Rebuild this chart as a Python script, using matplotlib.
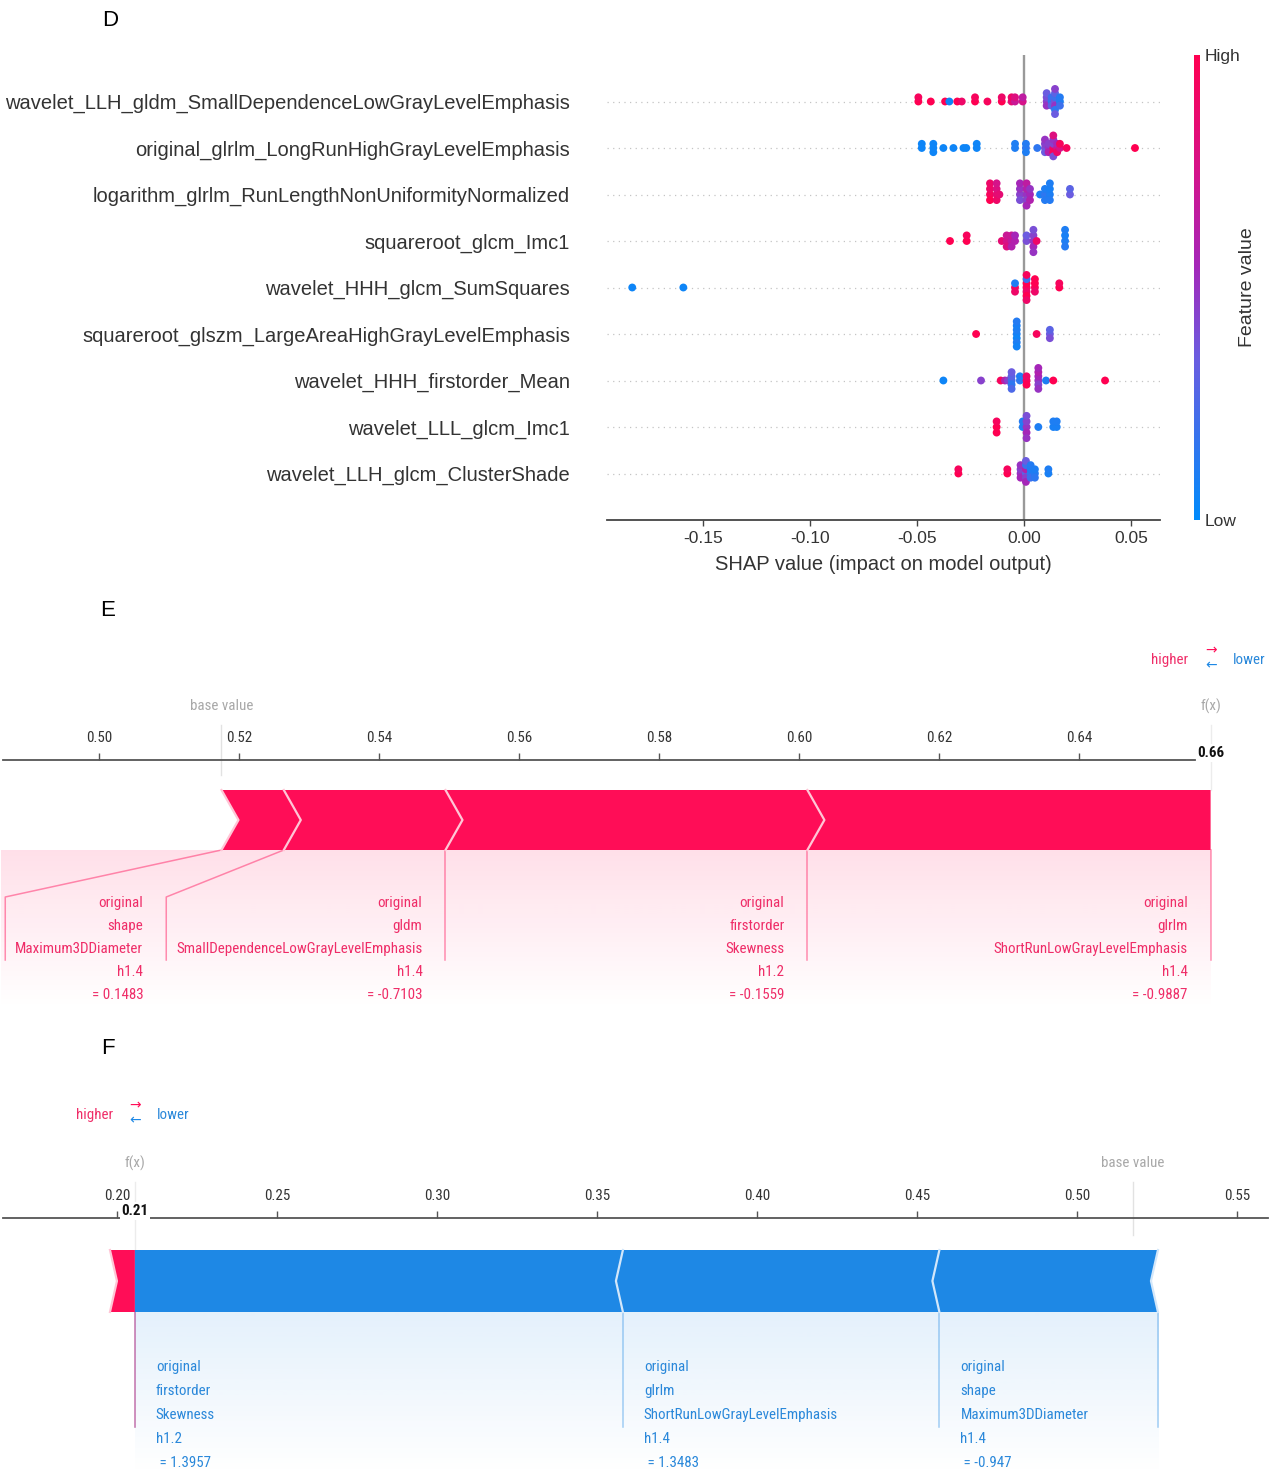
import numpy as np
import matplotlib
matplotlib.use("Agg")
import matplotlib.pyplot as plt
from matplotlib import font_manager as fm
from matplotlib.colors import LinearSegmentedColormap, Normalize, to_rgb
from matplotlib.cm import ScalarMappable
from matplotlib.patches import Polygon
from matplotlib.transforms import offset_copy

W, H, DPI = 1281, 1475, 100

# ---------------- Panel D data (SHAP summary / beeswarm) ----------------
feature_names = [
    "wavelet_LLH_gldm_SmallDependenceLowGrayLevelEmphasis",
    "original_glrlm_LongRunHighGrayLevelEmphasis",
    "logarithm_glrlm_RunLengthNonUniformityNormalized",
    "squareroot_glcm_Imc1",
    "wavelet_HHH_glcm_SumSquares",
    "squareroot_glszm_LargeAreaHighGrayLevelEmphasis",
    "wavelet_HHH_firstorder_Mean",
    "wavelet_LLL_glcm_Imc1",
    "wavelet_LLH_glcm_ClusterShade",
]

shap_sdlgle = [-0.0494, -0.0494, -0.0436, -0.0369, -0.0349, -0.0312, -0.0291, -0.0229, -0.0229, -0.0171,
               -0.0104, -0.0104, -0.0058, -0.0058, -0.0042, -0.0042, -0.0006, -0.0006,
               0.0106, 0.0106, 0.0106, 0.0106, 0.0129, 0.0129, 0.0129,
               0.0145, 0.0145, 0.0145, 0.0145, 0.0145, 0.0145, 0.0145, 0.0168, 0.0168, 0.0168]
val_sdlgle = [1.0, 0.95, 1.0, 1.0, 0.05, 1.0, 0.9, 1.0, 0.95, 0.95,
              1.0, 0.9, 0.85, 0.9, 0.7, 0.8, 0.75, 0.65,
              0.45, 0.4, 0.5, 0.35, 0.15, 0.2, 0.3,
              0.4, 0.2, 0.5, 0.3, 0.15, 0.45, 0.35, 0.1, 0.12, 0.2]

shap_lrhgle = [-0.0478, -0.0478, -0.0424, -0.0424, -0.0424, -0.0377, -0.0330, -0.0283, -0.0270, -0.0221, -0.0221,
               -0.0042, -0.0042, 0.0009, 0.0009, 0.0009, 0.0062,
               0.0098, 0.0098, 0.0098, 0.0098, 0.0115, 0.0115, 0.0115,
               0.0137, 0.0137, 0.0137, 0.0137, 0.0137, 0.0137, 0.0155, 0.0155, 0.0155,
               0.0168, 0.0168, 0.0199, 0.0519]
val_lrhgle = [0.05, 0.05, 0.05, 0.05, 0.05, 0.05, 0.05, 0.05, 0.05, 0.05, 0.05,
              0.1, 0.1, 0.15, 0.12, 0.1, 0.15,
              0.4, 0.45, 0.35, 0.5, 0.5, 0.45, 0.6,
              0.9, 0.45, 0.95, 0.5, 0.4, 0.8, 0.7, 0.55, 0.9,
              0.75, 0.95, 0.95, 1.0]

shap_rlnun = [-0.0159, -0.0159, -0.0159, -0.0159, -0.0128, -0.0128, -0.0128, -0.0128, -0.0115,
              -0.0019, -0.0019, -0.0019, -0.0019, 0.0012, 0.0012, 0.0012, 0.0012, 0.0012,
              0.0028, 0.0028, 0.0028, 0.0075, 0.0098, 0.0098, 0.0098,
              0.0121, 0.0121, 0.0121, 0.0121, 0.0215, 0.0215]
val_rlnun = [0.95, 0.9, 1.0, 0.9, 0.85, 0.8, 0.9, 0.75, 0.85,
             0.45, 0.5, 0.4, 0.55, 0.5, 0.6, 0.45, 0.65, 0.55,
             0.55, 0.5, 0.6, 0.1, 0.15, 0.1, 0.12,
             0.1, 0.08, 0.12, 0.1, 0.35, 0.3]

shap_sqimc1 = [-0.0346, -0.0268, -0.0268, -0.0104, -0.0081, -0.0081, -0.0081, -0.0058, -0.0058, -0.0058,
               -0.0042, -0.0042, 0.0012, 0.0012, 0.0044, 0.0044, 0.0044, 0.0044, 0.0044, 0.0059,
               0.0192, 0.0192, 0.0192, 0.0192]
val_sqimc1 = [1.0, 1.0, 0.95, 0.85, 0.75, 0.7, 0.8, 0.65, 0.7, 0.6,
              0.6, 0.55, 0.4, 0.35, 0.5, 0.45, 0.55, 0.4, 0.5, 0.9,
              0.1, 0.08, 0.12, 0.1]

shap_sumsq = [-0.1832, -0.1593, -0.0042, -0.0042, -0.0042,
              0.0012, 0.0012, 0.0012, 0.0012, 0.0012, 0.0012, 0.0012,
              0.0051, 0.0051, 0.0051, 0.0051, 0.0165, 0.0165]
val_sumsq = [0.05, 0.05, 0.95, 0.1, 0.9,
             0.95, 1.0, 0.9, 0.2, 1.0, 0.95, 0.9,
             0.95, 1.0, 0.9, 1.0, 1.0, 0.95]

shap_lahgle = [-0.0224, -0.0034, -0.0034, -0.0034, -0.0034, -0.0034, -0.0034, -0.0034,
               0.0059, 0.0121, 0.0121, 0.0121]
val_lahgle = [1.0, 0.08, 0.1, 0.05, 0.08, 0.1, 0.12, 0.06,
              0.95, 0.35, 0.3, 0.4]

shap_hmean = [-0.0377, -0.0201, -0.0109, -0.0089, -0.0075,
              -0.0058, -0.0058, -0.0058, -0.0058, -0.0058, -0.0019, -0.0019,
              0.0012, 0.0012, 0.0012, 0.0067, 0.0067, 0.0067, 0.0067, 0.0067, 0.0067,
              0.0103, 0.0137, 0.0379]
val_hmean = [0.05, 0.45, 0.95, 0.6, 0.45,
             0.2, 0.3, 0.15, 0.35, 0.25, 0.15, 0.1,
             0.95, 0.9, 1.0, 0.5, 0.55, 0.45, 0.6, 0.5, 0.55,
             0.1, 1.0, 1.0]

shap_lllimc1 = [-0.0128, -0.0128, -0.0128, -0.0006, -0.0006,
                0.0012, 0.0012, 0.0012, 0.0012, 0.0012, 0.0067, 0.0137, 0.0137, 0.0153, 0.0153]
val_lllimc1 = [1.0, 0.95, 1.0, 0.1, 0.12,
               0.5, 0.45, 0.55, 0.4, 0.5, 0.1, 0.08, 0.1, 0.08, 0.1]

shap_cshade = [-0.0307, -0.0307, -0.0078, -0.0078, -0.0016, -0.0016, -0.0016, -0.0016,
               0.0009, 0.0009, 0.0009, 0.0009, 0.0009, 0.0009, 0.0031, 0.0031, 0.0031, 0.0031,
               0.0051, 0.0051, 0.0051, 0.0114, 0.0114]
val_cshade = [1.0, 0.95, 1.0, 0.95, 0.5, 0.45, 0.55, 0.5,
              0.3, 0.6, 0.45, 0.2, 0.55, 0.35, 0.15, 0.1, 0.2, 0.12,
              0.12, 0.1, 0.15, 0.08, 0.1]

d_xticks = [-0.15, -0.10, -0.05, 0.00, 0.05]

# ---------------- Panel E data (force plot) ----------------
e_base_value = 0.5175
e_pos_effects = [0.0576, 0.0517, 0.0231, 0.0089]          # ordered outward from f(x)
e_pos_labels = [
    ["original", "glrlm", "ShortRunLowGrayLevelEmphasis", "h1.4", "= -0.9887"],
    ["original", "firstorder", "Skewness", "h1.2", "= -0.1559"],
    ["original", "gldm", "SmallDependenceLowGrayLevelEmphasis", "h1.4", "= -0.7103"],
    ["original", "shape", "Maximum3DDiameter", "h1.4", "= 0.1483"],
]
e_neg_effects = []
e_neg_labels = []
e_ticks = [0.50, 0.52, 0.54, 0.56, 0.58, 0.60, 0.62, 0.64]

# ---------------- Panel F data (force plot) ----------------
f_base_value = 0.5175
f_pos_effects = [0.0078]
f_pos_labels = [None]
f_neg_effects = [-0.1525, -0.0989, -0.0683]
f_neg_labels = [
    ["original", "firstorder", "Skewness", "h1.2", " = 1.3957"],
    ["original", "glrlm", "ShortRunLowGrayLevelEmphasis", "h1.4", " = 1.3483"],
    ["original", "shape", "Maximum3DDiameter", "h1.4", " = -0.947"],
]
f_ticks = [0.20, 0.25, 0.30, 0.35, 0.40, 0.45, 0.50, 0.55]

# ---------------- fonts ----------------
names = {f.name for f in fm.fontManager.ttflist}
SANS = "Liberation Sans" if "Liberation Sans" in names else "DejaVu Sans"
if "Liberation Sans Narrow" in names:
    NARROW = dict(family="Liberation Sans Narrow")
elif "Roboto Condensed" in names:
    NARROW = dict(family="Roboto Condensed")
elif any(f.name == "DejaVu Sans" and "ondensed" in f.fname for f in fm.fontManager.ttflist):
    NARROW = dict(family="DejaVu Sans", stretch="condensed")
else:
    NARROW = dict(family=SANS)
plt.rcParams["font.family"] = [SANS, "DejaVu Sans"]

RED = "#ff0d57"
BLUE = "#1e88e5"
RED_TXT = "#ef2d68"
BLUE_TXT = "#2a88da"

fig = plt.figure(figsize=(W / DPI, H / DPI), dpi=DPI)
renderer = fig.canvas.get_renderer()


def rect(l, t, r, b):
    return [l / W, 1 - b / H, (r - l) / W, (b - t) / H]


def text_w(s, **kw):
    t = fig.text(0, 0, s, **kw)
    w = t.get_window_extent(renderer=renderer).width
    t.remove()
    return w


FS_N = 10 * 246.0 / text_w("SmallDependenceLowGrayLevelEmphasis", fontsize=10, **NARROW)

# ---------------- Panel D ----------------
cmap = LinearSegmentedColormap.from_list(
    "shap_red_blue",
    [(0.0, "#008bfb"), (0.35, "#6b5ce0"), (0.55, "#a526b8"), (0.75, "#d4138a"), (1.0, "#ff0051")])


def swarm_offsets(vals, nbins=100, row_height=0.4):
    vals = np.asarray(vals, float)
    quant = np.round(nbins * (vals - vals.min()) / (vals.max() - vals.min() + 1e-8))
    inds = np.argsort(quant, kind="stable")
    ys = np.zeros(len(vals))
    layer, last = 0, -1
    for ind in inds:
        if quant[ind] != last:
            layer = 0
        ys[ind] = np.ceil(layer / 2) * ((layer % 2) * 2 - 1)
        layer += 1
        last = quant[ind]
    ys *= 0.9 * (row_height / np.max(ys + 1))
    return ys


d_shap = [shap_sdlgle, shap_lrhgle, shap_rlnun, shap_sqimc1, shap_sumsq,
          shap_lahgle, shap_hmean, shap_lllimc1, shap_cshade]
d_vals = [val_sdlgle, val_lrhgle, val_rlnun, val_sqimc1, val_sumsq,
          val_lahgle, val_hmean, val_lllimc1, val_cshade]

axd = fig.add_axes(rect(607, 55, 1160, 520))
n = len(feature_names)
for i, (sv, fv) in enumerate(zip(d_shap, d_vals)):
    pos = n - 1 - i
    axd.axhline(pos, color="#c4c4c4", lw=0.9, dashes=(1, 3.5), zorder=-1)
    ys = swarm_offsets(sv)
    axd.scatter(sv, pos + ys, c=fv, cmap=cmap, vmin=0, vmax=1, s=32, linewidths=0, zorder=2)
axd.axvline(0, color="#999999", lw=1.7, zorder=1)
axd.set_xlim(-0.195, 0.0636)
axd.set_ylim(-1, n)
axd.set_yticks(range(n))
axd.set_yticklabels(feature_names[::-1])
axd.set_xticks(d_xticks)
axd.set_xticklabels(["%.2f" % t for t in d_xticks])
for s in ["top", "right", "left"]:
    axd.spines[s].set_visible(False)
axd.spines["bottom"].set_color("#444444")
axd.spines["bottom"].set_linewidth(1.3)
axd.tick_params(axis="y", length=0, pad=26.6, labelsize=14.5, labelcolor="#333333")
axd.tick_params(axis="x", length=4, width=1, color="#444444", pad=4, labelsize=12.5, labelcolor="#333333")
axd.set_xlabel("SHAP value (impact on model output)", fontsize=14.5, color="#333333", labelpad=6.5)
axd.patch.set_visible(False)

cax = fig.add_axes(rect(1194, 55, 1200, 520))
cb = fig.colorbar(ScalarMappable(norm=Normalize(0, 1), cmap=cmap), cax=cax, ticks=[0, 1])
cb.set_ticklabels(["Low", "High"])
cb.outline.set_visible(False)
cax.tick_params(length=0, pad=3.5, labelsize=12.5, labelcolor="#333333")
cb.set_label("Feature value", size=14, labelpad=-1, color="#333333")


# ---------------- force plots ----------------
def draw_force(ax, xlim, base, pos_eff, pos_lab, neg_eff, neg_lab, ticks, cfg):
    x0, x1 = xlim
    bb = ax.get_position()
    ppu = bb.width * W / (x1 - x0)

    def px(v):
        return v / ppu

    top, bot = cfg["bar_top"], cfg["bar_bot"]
    mid = 0.5 * (top + bot)
    d = px(cfg["chev"])
    fx = base + sum(pos_eff) + sum(neg_eff)
    ax.set_autoscale_on(False)
    ax.set_xlim(x0, x1)
    ax.set_ylim(cfg["ax_bot"], cfg["axis_y"])

    pos_b = [fx]
    for e in pos_eff:
        pos_b.append(pos_b[-1] - e)
    neg_b = [fx]
    for e in neg_eff:
        neg_b.append(neg_b[-1] - e)

    txtkw = dict(fontsize=FS_N, **NARROW)
    # positive labels: right-aligned, left of their line
    Lp = [fx]
    for k, lab in enumerate(pos_lab):
        bn = pos_b[k + 1]
        if lab is None:
            Lp.append(bn)
            continue
        w = max(text_w(s, **txtkw) for s in lab)
        tr = Lp[k] - px(23)
        for j, s in enumerate(lab):
            ax.text(tr, cfg["lab_y0"] + j * cfg["lab_dy"], s, ha="right", va="center",
                    color=RED_TXT, clip_on=False, zorder=5, **txtkw)
        Lp.append(max(min(bn, tr - px(w) - px(10)), x0))
    # negative labels: left-aligned, right of their line
    Ln = [fx]
    for k, lab in enumerate(neg_lab):
        bn = neg_b[k + 1]
        if lab is None:
            Ln.append(bn)
            continue
        w = max(text_w(s, **txtkw) for s in lab)
        tl = Ln[k] + px(21)
        for j, s in enumerate(lab):
            ax.text(tl, cfg["lab_y0"] + j * cfg["lab_dy"], s, ha="left", va="center",
                    color=BLUE_TXT, clip_on=False, zorder=5, **txtkw)
        Ln.append(max(bn, tl + px(w) + px(10)))

    def gradient(xa, xb, color, a0):
        rgba = np.zeros((80, 1, 4))
        rgba[..., :3] = to_rgb(color)
        rgba[:, 0, 3] = np.linspace(a0, 0.0, 80)
        im = ax.imshow(rgba, extent=(xa, xb, cfg["grad_end"], bot), origin="upper",
                       aspect="auto", interpolation="bilinear", zorder=0)
        im.set_clip_on(False)

    if any(l is not None for l in pos_lab):
        gradient(min(Lp) - px(4), fx, RED, 0.13)
    if any(l is not None for l in neg_lab):
        gradient(fx, max(Ln), BLUE, 0.12)

    # connector lines
    for j in range(len(Ln)):
        adj = (j < len(neg_lab) and neg_lab[j] is not None) or (j > 0 and neg_lab[j - 1] is not None)
        if adj:
            ax.plot([neg_b[j], Ln[j], Ln[j]], [bot, cfg["bend"], cfg["line_end"]],
                    color=BLUE, alpha=0.4, lw=1.1, clip_on=False, zorder=2)
    for j in range(len(Lp)):
        adj = j == 0 or (j < len(pos_lab) and pos_lab[j] is not None) or (pos_lab[j - 1] is not None)
        if adj and len(pos_eff) > 0:
            ax.plot([pos_b[j], Lp[j], Lp[j]], [bot, cfg["bend"], cfg["line_end"]],
                    color=RED, alpha=0.45, lw=1.1, clip_on=False, zorder=2)

    # bars
    for k in range(len(pos_eff)):
        r, l = pos_b[k], pos_b[k + 1]
        if k == 0:
            pts = [(l, top), (r, top), (r, bot), (l, bot), (l + d, mid)]
        else:
            pts = [(l, top), (r, top), (r + d, mid), (r, bot), (l, bot), (l + d, mid)]
        ax.add_patch(Polygon(pts, closed=True, fc=RED, ec="none", zorder=3, clip_on=False))
        ax.plot([l, l + d, l], [top, mid, bot], color="#ffc6d6", lw=1.6, zorder=4, clip_on=False)
    for k in range(len(neg_eff)):
        l, r = neg_b[k], neg_b[k + 1]
        if k == 0:
            pts = [(l, top), (r, top), (r - d, mid), (r, bot), (l, bot)]
        else:
            pts = [(l, top), (r, top), (r - d, mid), (r, bot), (l, bot), (l - d, mid)]
        ax.add_patch(Polygon(pts, closed=True, fc=BLUE, ec="none", zorder=3, clip_on=False))
        ax.plot([r, r - d, r], [top, mid, bot], color="#d3e7fa", lw=1.6, zorder=4, clip_on=False)

    # axis
    for s in ["left", "right", "bottom"]:
        ax.spines[s].set_visible(False)
    ax.spines["top"].set_color("#555555")
    ax.spines["top"].set_linewidth(1.3)
    ax.xaxis.tick_top()
    ax.set_yticks([])
    ax.set_xticks(ticks)
    ax.set_xticklabels(["%.2f" % t for t in ticks], color="#333333", **txtkw)
    ax.tick_params(axis="x", direction="out", length=5, width=1, color="#555555", pad=6)
    ax.set_xlim(x0, x1)
    ax.set_ylim(cfg["ax_bot"], cfg["axis_y"])
    ax.patch.set_visible(False)

    # f(x) / base value annotations
    ty = cfg["fx_text_y"]
    ax.plot([base, base], [ty + 19, top - 15], color="#e2e2e2", lw=1, clip_on=False, zorder=1)
    ax.plot([fx, fx], [ty + 19, top], color="#ececec", lw=1, clip_on=False, zorder=1)
    ax.text(base, ty, "base value", ha="center", va="center", color="#a8a8a8", clip_on=False, **txtkw)
    ax.text(fx, ty, "f(x)", ha="center", va="center", color="#a8a8a8", clip_on=False, **txtkw)
    ax.text(fx, cfg["axis_y"] - 7, "%.2f" % fx, ha="center", va="center", color="#111111",
            fontweight="bold", clip_on=False, zorder=8,
            bbox=dict(boxstyle="square,pad=0.1", fc="white", ec="none"), **txtkw)

    # higher / lower legend
    ly = cfg["legend_y"]
    tr_l = offset_copy(ax.transData, fig=fig, x=-22, y=0, units="dots")
    tr_r = offset_copy(ax.transData, fig=fig, x=22, y=0, units="dots")
    ax.text(fx, ly, "higher", ha="right", va="center", color=RED_TXT, transform=tr_l,
            clip_on=False, **txtkw)
    ax.text(fx, ly, "lower", ha="left", va="center", color=BLUE_TXT, transform=tr_r,
            clip_on=False, **txtkw)
    ax.text(fx, ly - 10, "\u2192", ha="center", va="center", color=RED, fontsize=10,
            family="DejaVu Sans", clip_on=False)
    ax.text(fx, ly + 5, "\u2190", ha="center", va="center", color=BLUE, fontsize=10,
            family="DejaVu Sans", clip_on=False)


axe = fig.add_axes(rect(3, 760, 1195, 1010))
draw_force(axe, (0.486286, 0.656571), e_base_value, e_pos_effects, e_pos_labels,
           e_neg_effects, e_neg_labels, e_ticks,
           dict(bar_top=790, bar_bot=850, chev=17, bend=897, line_end=960, lab_y0=903, lab_dy=23,
                axis_y=760, ax_bot=1010, grad_end=1010, fx_text_y=706, legend_y=660))

axf = fig.add_axes(rect(3, 1218, 1268, 1475))
draw_force(axf, (0.164375, 0.559688), f_base_value, f_pos_effects, f_pos_labels,
           f_neg_effects, f_neg_labels, f_ticks,
           dict(bar_top=1250, bar_bot=1312, chev=7, bend=1360, line_end=1427, lab_y0=1367, lab_dy=24,
                axis_y=1218, ax_bot=1475, grad_end=1475, fx_text_y=1163, legend_y=1115))

# panel letters
for letter, (x, y) in zip(["D", "E", "F"], [(110, 21), (108, 611), (108, 1049)]):
    fig.text(x / W, 1 - y / H, letter, ha="center", va="center", fontsize=16, color="black")

fig.savefig("out.png", dpi=DPI)
